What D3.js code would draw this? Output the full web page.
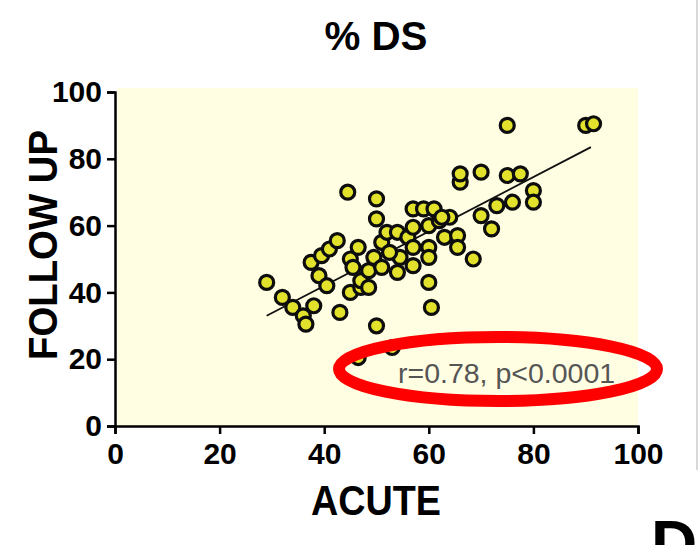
<html>
  <head>
    <meta charset="utf-8" />
    <script src="https://d3js.org/d3.v7.min.js"></script>
  </head>
  <style>
    body { margin: 0; background: #fff; }
    svg { display: block; }
  </style>
  <body>
    <div id="viz"><svg></svg></div>
  </body>
  <footer>
    <script>
      // acute vs follow-up %DS
      var acute = [29, 32, 34, 36, 36.5, 38, 37.5, 39.5, 41, 42.5, 39, 40.5, 43, 44.5, 45, 45.5,
        46.5, 45, 47, 47, 48.5, 48.5, 49.5, 50, 50, 50, 46.5, 53, 51, 51, 52, 54, 54.5, 54,
        56, 57, 59, 61, 57, 57, 57, 60, 62, 64, 62.5, 60, 60, 60, 60.5, 63, 65.5, 65.5, 68.5,
        66, 66, 70, 75, 77.5, 75, 90, 91.5, 80, 80, 76, 73, 70, 72, 52.5];
      var followUp = [43, 38.5, 35.5, 33, 30.5, 36, 49, 51, 53, 55.5, 45, 42, 34, 70, 50, 47.5,
        53.5, 40, 41.5, 43.5, 41.5, 46.5, 50.5, 68, 62, 30, 20.5, 23.5, 55, 47.5, 58, 58, 50.5, 46,
        56.5, 65, 65, 65, 59.5, 53.5, 48, 60, 61.5, 62.5, 62.5, 53.5, 50.5, 43, 35.5, 56.5, 57, 53.5, 50,
        73, 75.5, 76, 75, 75.5, 90, 90, 90.5, 70.5, 67, 67, 66, 63, 59, 52];
      var fitLine = [[29, 33], [91, 83.5]];
      var ticks = [0, 20, 40, 60, 80, 100];
      var statText = "r=0.78, p<0.0001";

      var W = 700, H = 545;
      var font = "Liberation Sans, Arial, sans-serif";
      var svg = d3.select("svg").attr("width", W).attr("height", H);

      var x = d3.scaleLinear().domain([0, 100]).range([115, 638]);
      var y = d3.scaleLinear().domain([0, 100]).range([426, 92]);

      // plot background
      svg.append("rect")
        .attr("x", x(0) + 2).attr("y", y(100) - 4)
        .attr("width", x(100) - x(0) - 2).attr("height", y(0) - y(100) + 4)
        .style("fill", "#fffde2");

      // faint edge line at right
      svg.append("line")
        .attr("x1", 697).attr("x2", 697).attr("y1", 0).attr("y2", 470)
        .style("stroke", "#d8d8d8").style("stroke-width", 2);

      // axes
      var xAxis = svg.append("g")
        .attr("transform", "translate(0," + y(0) + ")")
        .call(d3.axisBottom(x).tickValues(ticks).tickSize(8).tickSizeOuter(8).tickPadding(9));
      var yAxis = svg.append("g")
        .attr("transform", "translate(" + x(0) + ",0)")
        .call(d3.axisLeft(y).tickValues(ticks).tickSize(8).tickSizeOuter(8).tickPadding(5));

      [xAxis, yAxis].forEach(function (g) {
        g.selectAll("path, line").style("stroke", "#000").style("stroke-width", 2.5);
        g.selectAll("text")
          .style("font-family", font)
          .style("font-weight", "bold")
          .style("font-size", "30px")
          .style("fill", "#000");
      });

      // regression line
      svg.append("path")
        .datum(fitLine)
        .attr("d", d3.line().x(function (d) { return x(d[0]); }).y(function (d) { return y(d[1]); }))
        .style("fill", "none").style("stroke", "#111").style("stroke-width", 1.8);

      // points
      svg.selectAll("circle.pt")
        .data(d3.range(acute.length))
        .enter()
        .append("circle")
        .attr("class", "pt")
        .attr("cx", function (i) { return x(acute[i]); })
        .attr("cy", function (i) { return y(followUp[i]); })
        .attr("r", 7)
        .style("fill", "#e2e22c")
        .style("stroke", "#0d0d0d")
        .style("stroke-width", 3.2);

      // title and axis titles
      svg.append("text").text("% DS")
        .attr("x", 376).attr("y", 50).attr("text-anchor", "middle")
        .attr("textLength", 103).attr("lengthAdjust", "spacingAndGlyphs")
        .style("font-family", font).style("font-weight", "bold").style("font-size", "40px");
      svg.append("text").text("ACUTE")
        .attr("x", 376).attr("y", 515).attr("text-anchor", "middle")
        .attr("textLength", 130).attr("lengthAdjust", "spacingAndGlyphs")
        .style("font-family", font).style("font-weight", "bold").style("font-size", "42px");
      svg.append("text").text("FOLLOW UP")
        .attr("transform", "translate(57,245) rotate(-90)").attr("text-anchor", "middle")
        .attr("textLength", 230).attr("lengthAdjust", "spacingAndGlyphs")
        .style("font-family", font).style("font-weight", "bold").style("font-size", "41px");

      // stats annotation with red ellipse
      svg.append("text").text(statText)
        .attr("x", 398).attr("y", 383)
        .style("font-family", font).style("font-size", "28.5px").style("fill", "#555");
      svg.append("ellipse")
        .attr("cx", 498).attr("cy", 369).attr("rx", 159).attr("ry", 32)
        .style("fill", "none").style("stroke", "#ff0000").style("stroke-width", 12);

      // panel letter (cut by the bottom edge, as in the figure)
      svg.append("text").text("D")
        .attr("x", 651).attr("y", 566)
        .style("font-family", font).style("font-weight", "bold").style("font-size", "64px");
    </script>
  </footer>
</html>
